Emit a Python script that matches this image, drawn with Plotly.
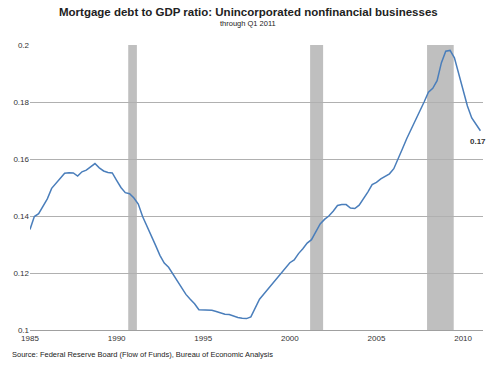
import plotly.graph_objects as go

# Quarterly observations, 1985 Q1 .. 2011 Q1
start_year = 1985
ratio = [
    0.1353, 0.1398, 0.1408, 0.1433,
    0.1460, 0.1497, 0.1515, 0.1532,
    0.1550, 0.1552, 0.1551, 0.1540,
    0.1555, 0.1561, 0.1574, 0.1584,
    0.1569, 0.1558, 0.1553, 0.1551,
    0.1525, 0.1500, 0.1482, 0.1478,
    0.1463, 0.1442, 0.1398, 0.1366,
    0.1330, 0.1297, 0.1262, 0.1235,
    0.1220, 0.1197, 0.1174, 0.1149,
    0.1125, 0.1108, 0.1092, 0.1071,
    0.1070, 0.1071, 0.1069, 0.1065,
    0.1060, 0.1055, 0.1054, 0.1048,
    0.1044, 0.1041, 0.1040, 0.1046,
    0.1075, 0.1108, 0.1126, 0.1145,
    0.1164, 0.1182, 0.1201, 0.1220,
    0.1236, 0.1246, 0.1268, 0.1285,
    0.1305, 0.1317, 0.1345, 0.1372,
    0.1388, 0.1400, 0.1417, 0.1437,
    0.1440, 0.1440, 0.1428, 0.1426,
    0.1438, 0.1460, 0.1484, 0.1510,
    0.1518, 0.1530, 0.1539, 0.1548,
    0.1566, 0.1598, 0.1636, 0.1672,
    0.1703, 0.1734, 0.1765, 0.1800,
    0.1834, 0.1848, 0.1875, 0.1938,
    0.1978, 0.1981, 0.1955, 0.1900,
    0.1842, 0.1786, 0.1744, 0.1719,
    0.1699,
]
dates = [start_year + i / 4 for i in range(len(ratio))]

# Recessions (start, end) in fractional years
recession_start = [1990.67, 2001.17, 2007.92]
recession_end = [1991.17, 2001.92, 2009.46]

x_ticks = [1985, 1990, 1995, 2000, 2005, 2010]
y_ticks = [0.1, 0.12, 0.14, 0.16, 0.18, 0.2]
y_tick_text = ["0.1", "0.12", "0.14", "0.16", "0.18", "0.2"]

title = "Mortgage debt to GDP ratio: Unincorporated nonfinancial businesses"
subtitle = "through Q1 2011"
source = "Source: Federal Reserve Board (Flow of Funds), Bureau of Economic Analysis"
last_label = "0.17"

FONT = "Liberation Sans, Arial, sans-serif"

fig = go.Figure()
for s, e in zip(recession_start, recession_end):
    fig.add_shape(type="rect", xref="x", yref="y", x0=s, x1=e, y0=0.1, y1=0.2,
                  fillcolor="#bfbfbf", line_width=0, layer="below")

fig.add_trace(go.Scatter(x=dates, y=ratio, mode="lines",
                         line=dict(color="#4a7ebb", width=1.5), hoverinfo="x+y",
                         showlegend=False))

fig.add_annotation(x=dates[-1], y=ratio[-1], text="<b>" + last_label + "</b>",
                   showarrow=False, xanchor="center", yanchor="top", yshift=-4,
                   xshift=-2, font=dict(size=8, color="#333333", family=FONT))

fig.add_annotation(x=0.482, y=1.0, xref="paper", yref="paper", yanchor="bottom",
                   text="<b>" + title + "</b>", showarrow=False, yshift=25,
                   font=dict(size=11.5, color="#222222", family=FONT))
fig.add_annotation(x=0.482, y=1.0, xref="paper", yref="paper", yanchor="bottom",
                   text=subtitle, showarrow=False, yshift=15,
                   font=dict(size=7.5, color="#222222", family=FONT))
fig.add_annotation(x=-0.045, y=0, xref="paper", yref="paper", yanchor="top",
                   xanchor="left", text=source, showarrow=False, yshift=-18,
                   font=dict(size=7.5, color="#222222", family=FONT))

fig.update_layout(
    width=500, height=367,
    margin=dict(l=30, r=17, t=45, b=37, autoexpand=False),
    plot_bgcolor="white", paper_bgcolor="white",
    font=dict(family=FONT, size=8, color="#333333"),
    xaxis=dict(range=[1985, 2011.15], tickvals=x_ticks, showgrid=False,
               zeroline=False, showline=True, linecolor="#a0a0a0", linewidth=1,
               ticks="", automargin=False, tickfont=dict(size=8, color="#333333")),
    yaxis=dict(range=[0.1, 0.2], tickvals=y_ticks, ticktext=y_tick_text,
               showgrid=True, gridcolor="#b0b0b0", gridwidth=1, zeroline=False,
               showline=False, ticks="", automargin=False,
               tickfont=dict(size=8, color="#333333")),
)

fig.write_html("out.html", config={"displayModeBar": False},
               post_script="document.body.style.margin='0';document.body.style.overflow='hidden';")
